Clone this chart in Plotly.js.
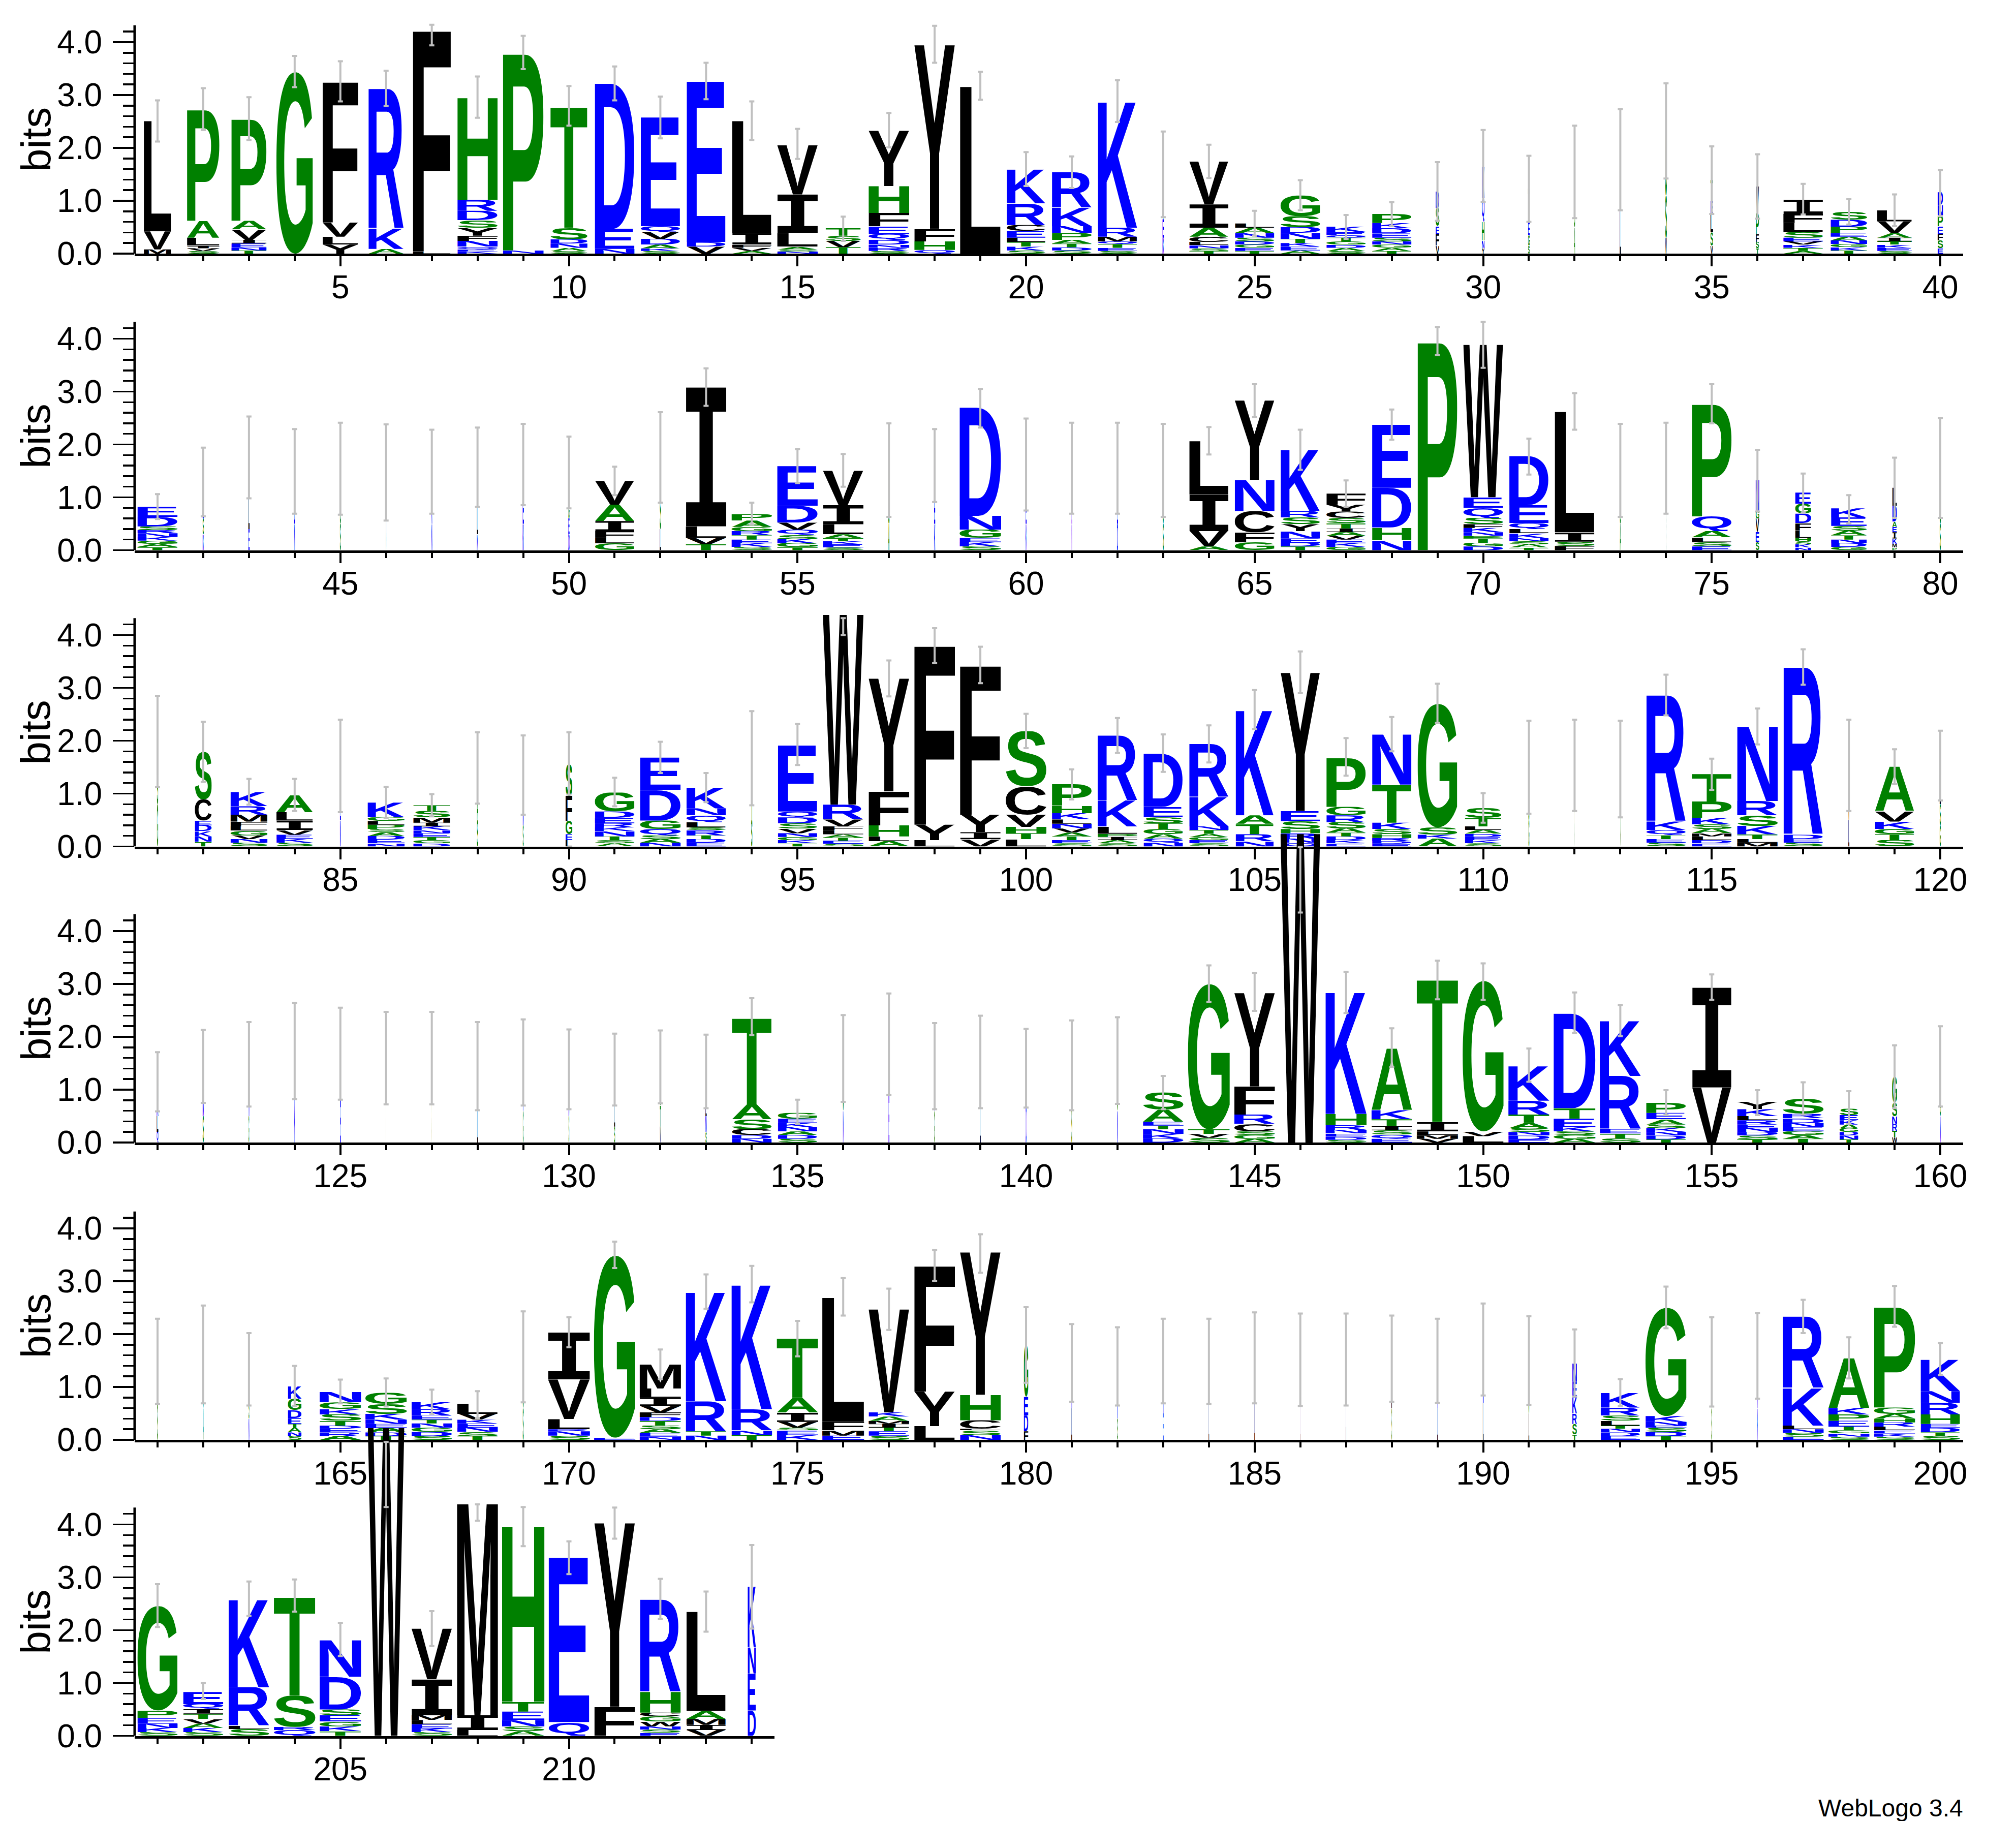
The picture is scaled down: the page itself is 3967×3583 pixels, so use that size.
<!DOCTYPE html>
<html>
<head>
<meta charset="utf-8">
<script src="https://cdn.plot.ly/plotly-3.0.1.min.js"></script>
<style>html,body{margin:0;padding:0;background:#fff}#plot{width:3967px;height:3583px}</style>
</head>
<body>
<div id="plot"></div>
<script>
const rowFirst = [1, 41, 81, 121, 161, 201];
const rowLast  = [40, 80, 120, 160, 200, 214];

// letters of each stack, bottom -> top
const stackLetters = [
 // 1-40
 "MVL","SVILAP","TNEIVAP","G","YLVF","AKR","LF","KEQNFYSDRH","NP","SANDST",
 "NED","SKADVQE","VDE","AVFIL","NSALIV","TVST","SRNDQEFHY","QHFY","L","SKTLECRK",
 "SDTAPNKR","SETQMRK","KEG","TSNLCAIV","TEGDSNAL","AEKTNDSG","SADGTQEK","TAGNSEDKP","VFESD","YNHQK",
 "SGET","ASG","LVK","VSG","VSLET","TSFPV","ATKVESLFI","TKGNAEPDS","SEKTIAVL","ESFEPND",
 // 41-80
 "TAGKNRSDE","KSE","ELI","NDE","SGT","G","NKD","NLIM","KEFL","DEGS",
 "GLFIAV","LSG","TVLI","SKETRGAP","TGKSQVDE","SEKTALIV","ASG","KED","SKEGND","KED",
 "NEK","DEK","SGT","AVIL","GFCNY","TDENYSRK","GKEVAITSCYF","NHDE","P","DGTPNKFSQEW",
 "TASNKLQED","FSIL","ASG","SGA","ESLAQP","SEVGN","NKSHLFDGE","GDNTASEK","PMKIEADL","SGT",
 // 81-120
 "GSL","TNKDECS","SNVGLFMRK","SKEVILA","NED","NEDASPLGK","DGTENKIMST","SAG","SNK","LEGFS",
 "ASTNKREDG","NASQGDE","EDTRSLQNK","STG","TKGNVSDQE","SETALFVRW","ALHFY","LYF","VIYF","LTHVCS",
 "SETAVNLKHP","SAIPLKR","NQAGTSED","SEGATNKR","NRTAK","QNRHSEY","EKDTASRGP","EDRHSKTN","AKSG","SKEDALTS",
 "GST","S","G","SETQKR","EDLMASKPT","MLTKSRN","SEDR","LVI","STGKVA","GSL",
 // 121-160
 "QLKS","SNG","GN","KD","EN","S","S","LN","GK","SD",
 "SLK","VTS","SNLE","NDCSAT","SDANKEG","NG","EK","GK","LI","DN",
 "SG","NG","DKNTEAS","SVTG","AGSCRFY","W","SDENRHK","EQSITKA","VMLIT","LVG",
 "EDNSATRK","AGSKETD","STERK","TDNKSAEP","VI","TSDNERLKY","TAGENDRS","TNDGAKES","WTRNSG","NGK",
 // 161-200
 "SG","AG","NSG","SNATEDGK","AREDTSKGN","TDAENKSG","SDGNTERK","TSNEKVL","SG","SNRLVI",
 "EG","NEASTDFVILM","NTRK","TNRK","KESVIAT","EMFL","SETIMAKV","LYF","NSLCHY","FDEG",
 "LK","SK","EK","LV","LI","LI","L","SL","LK","LE",
 "LS","TSRKEN","EDNTLSRK","TDSENKG","SG","KN","ESNLKR","SNGTEPKA","SKELRHAGP","STDEHRNK",
 // 201-214
 "SKNEPG","SKAVTIQE","SLRK","QRST","TKGESDN","W","SKELMIV","LIM","ASNETH","QE",
 "FY","ESNWGCHR","VIMAL","DENK"
];

// letter heights in bits, bottom -> top
const stackHeights = [
 // 1-40
 [.08,.34,2.09],[.05,.05,.05,.15,.32,2.11],[.06,.06,.07,.07,.20,.16,1.93],[3.44],[.17,.15,.27,2.67],
 [.09,.38,2.65],[.04,4.20],[.04,.04,.05,.11,.10,.15,.14,.18,.21,1.94],[.06,3.74],[.05,.06,.08,.08,.22,2.29],
 [.09,.38,2.75],[.05,.05,.07,.11,.13,.11,2.06],[.13,.09,3.04],[.05,.06,.06,.22,2.12],[.04,.04,.05,.26,.73,.94],
 [.12,.12,.10,.15],[.05,.06,.06,.09,.11,.15,.25,.51,1.05],[.07,.16,.24,3.48],[3.16],[.06,.07,.09,.08,.13,.11,.41,.64],
 [.06,.06,.07,.07,.13,.13,.35,.67],[.05,.06,.07,.05,.09,.17,2.39],[.30,.35,.88],[.05,.05,.06,.06,.10,.17,.44,.81],[.05,.06,.06,.06,.07,.09,.10,.08],
 [.06,.07,.07,.08,.11,.11,.21,.39],[.05,.06,.06,.06,.07,.05,.06,.10],[.05,.06,.06,.06,.07,.08,.10,.10,.17],[.15,.22,.15,.34,.32],[.10,.15,.35,.45,.60],
 [.15,.20,.25,.63],[.50,.50,.54],[.80,.40,.58],[.30,.80,1.22],[.15,.25,.35,.25,.39],
 [.10,.12,.15,.40,.50],[.05,.06,.06,.06,.07,.11,.17,.17,.27],[.06,.06,.06,.07,.07,.07,.12,.13,.15],[.05,.06,.06,.06,.07,.09,.22,.21],[.10,.15,.12,.15,.20,.20,.24],
 // 41-80
 [.06,.06,.06,.07,.07,.06,.07,.18,.19],[.30,.30,.70],[.40,.70,.66],[.50,.50,.50],[.50,.50,.54],
 [1.47],[.50,.50,.48],[.30,.50,.30,.47],[.50,.50,.20,.42],[.30,.30,.30,.57],
 [.13,.10,.13,.19,.31,.45],[.40,.70,.66],[.11,.12,.22,2.63],[.06,.07,.07,.08,.08,.08,.12,.12],[.06,.07,.08,.08,.10,.13,.32,.75],
 [.05,.06,.06,.06,.07,.19,.36,.65],[.50,.50,.53],[.50,.50,.59],[.07,.08,.08,.16,.26,2.05],[.50,.50,.62],
 [.50,.50,.55],[.50,.50,.55],[.50,.50,.51],[.07,.29,.69,1.01],[.15,.19,.40,.59,1.50],
 [.07,.07,.08,.14,.13,.13,.12,1.16],[.06,.07,.07,.07,.07,.07,.10,.10,.12,.13,.21],[.19,.24,.75,1.19],[3.95],[.07,.07,.08,.05,.07,.08,.07,.12,.19,.20,2.89],
 [.05,.06,.06,.06,.09,.08,.11,.34,.93],[.08,.08,.18,2.28],[.50,.50,.51],[.50,.50,.55],[.07,.08,.09,.12,.28,2.13],
 [.15,.20,.25,.15,.58],[.05,.06,.06,.06,.14,.14,.18,.19,.21],[.06,.07,.07,.08,.09,.09,.16,.17],[.05,.07,.10,.12,.10,.10,.30,.34],[.50,.50,.55],
 // 81-120
 [.80,.60,.58],[.09,.10,.10,.11,.09,.40,.90],[.07,.07,.07,.09,.08,.09,.13,.16,.27],[.07,.07,.08,.09,.18,.16,.32],[.50,.50,.52],
 [.06,.07,.07,.07,.06,.08,.07,.07,.28],[.06,.06,.06,.07,.06,.07,.07,.10,.12,.11],[.50,.50,.50],[.40,.50,.45],[.12,.11,.25,.48,.60],
 [.06,.06,.07,.10,.07,.08,.10,.12,.36],[.07,.07,.07,.12,.16,.58,.61],[.07,.07,.07,.10,.05,.10,.13,.13,.39],[.50,.50,.67],[.06,.06,.06,.07,.09,.10,.11,.11,1.26],
 [.05,.06,.06,.06,.08,.07,.13,.28,3.60],[.10,.09,.21,.64,2.14],[.12,.29,3.40],[.14,.13,.33,2.83],[.14,.11,.12,.23,.53,1.05],
 [.06,.06,.07,.07,.08,.09,.08,.12,.14,.41],[.06,.06,.06,.06,.14,.49,1.23],[.07,.08,.08,.10,.11,.11,.20,1.01],[.06,.06,.06,.06,.07,.07,.56,1.00],[.10,.13,.20,.16,1.99],
 [.07,.08,.10,.08,.15,.19,2.62],[.06,.06,.07,.07,.08,.12,.13,.16,.93],[.05,.05,.06,.07,.10,.12,.72,.95],[.15,.07,.14,2.34],[.06,.06,.06,.06,.07,.07,.16,.19],
 [.50,.50,.50],[1.54],[1.46],[.07,.07,.07,.10,.16,2.39],[.06,.06,.07,.06,.08,.09,.12,.31,.52],
 [.07,.07,.09,.16,.20,.27,1.41],[.07,.07,.08,3.17],[.50,.50,.54],[.12,.11,.10,.14,.20,.84],[.40,.40,.73],
 // 121-160
 [.20,.30,.30,.35],[.50,.40,.54],[.50,.98],[.80,.93],[.80,.88],
 [1.59],[1.59],[.60,.85],[.60,.92],[.50,.89],
 [.30,.50,.58],[.30,.40,.73],[.20,.30,.30,.54],[.07,.07,.11,.19,.28,1.64],[.07,.07,.07,.08,.08,.08,.11],
 [.60,.99],[.90,.96],[.60,.85],[.80,.72],[.70,.71],
 [.70,.76],[.60,.95],[.08,.08,.09,.07,.07,.23,.33],[.09,.07,.09,2.75],[.07,.07,.07,.14,.18,.53,1.77],
 [5.85],[.05,.06,.06,.07,.09,.21,2.31],[.07,.08,.08,.08,.13,.17,1.17],[.07,.07,.07,.18,2.70],[.12,.09,2.85],
 [.06,.07,.07,.07,.10,.16,.26,.66],[.07,.07,.07,.08,.16,.20,1.79],[.08,.09,.09,1.00,1.04],[.06,.07,.07,.07,.07,.10,.12,.20],[1.04,1.89],
 [.06,.07,.07,.07,.07,.08,.08,.13,.14],[.07,.07,.07,.08,.08,.09,.08,.29],[.06,.07,.07,.07,.07,.08,.10,.12],[.10,.12,.13,.15,.25,.49],[.50,.40,.54],
 // 161-200
 [.70,.79],[.60,1.01],[.40,.40,.54],[.07,.07,.08,.08,.11,.15,.22,.24],[.07,.07,.07,.06,.09,.12,.10,.13,.20],
 [.07,.07,.08,.08,.08,.11,.19,.21],[.07,.08,.08,.08,.07,.08,.12,.14],[.07,.08,.08,.08,.07,.11,.19],[.60,.97],[.08,.08,.04,.19,.75,.89],
 [.04,3.45],[.06,.07,.07,.07,.09,.07,.09,.12,.15,.18,.46],[.08,.08,.57,2.07],[.09,.09,.40,2.36],[.09,.09,.05,.11,.18,.27,1.13],
 [.08,.10,.16,2.35],[.08,.08,.07,.07,.06,.08,.08,1.95],[.26,.65,2.39],[.09,.09,.03,.16,.48,2.70],[.16,.30,.35,.98],
 [.60,.86],[.40,.99],[.50,.99],[.70,.79],[.80,.75],
 [.70,.82],[1.52],[.60,.94],[.60,.90],[.70,1.01],
 [.50,1.00],[.10,.20,.20,.30,.30,.35],[.07,.07,.07,.06,.09,.10,.15,.28],[.07,.08,.08,.04,.07,.11,2.05],[.60,.87],
 [.60,.99],[.06,.07,.07,.07,.71,1.35],[.06,.06,.06,.07,.11,.12,.12,.94],[.06,.06,.06,.07,.08,.07,.09,.12,1.91],[.07,.07,.08,.08,.18,.22,.22,.60],
 // 201-214
 [.07,.08,.08,.11,.14,1.98],[.07,.08,.08,.09,.10,.09,.09,.23],[.13,.06,.73,1.66],[.11,.06,.59,1.87],[.09,.09,.09,.12,.11,.62,.69],
 [5.84],[.07,.07,.08,.08,.09,.68,.96],[.11,.28,4.03],[.09,.09,.12,.16,.19,3.33],[.26,3.12],
 [.55,3.48],[.06,.06,.06,.09,.10,.07,.39,1.75],[.11,.10,.11,.15,1.88],[.48,.70,.50,1.15]
];

// visible stack width, as a fraction of one position (narrow = many gaps)
const stackWidths = [
 .60,.71,.77,.80,.78,.77,.83,.88,.89,.81,.87,.86,.85,.86,.89,.77,.89,.89,.89,.85,
 .87,.86,.035,.86,.86,.87,.86,.86,.08,.06,.04,.025,.03,.04,.06,.07,.87,.80,.76,.12,
 .88,.03,.03,.025,.025,.01,.025,.03,.03,.03,.86,.03,.89,.89,.89,.89,.03,.03,.91,.025,
 .015,.025,.025,.86,.87,.86,.86,.86,.87,.87,.86,.87,.025,.008,.87,.08,.35,.78,.10,.03,
 .03,.37,.81,.80,.025,.81,.81,.03,.025,.15,.87,.89,.86,.03,.86,.89,.89,.89,.89,.89,
 .87,.87,.86,.86,.83,.86,.86,.86,.87,.80,.025,.006,.01,.86,.87,.89,.86,.025,.86,.03,
 .04,.03,.02,.02,.02,.006,.006,.02,.02,.02,.025,.025,.03,.87,.86,.02,.02,.02,.02,.02,
 .02,.02,.89,.92,.89,.87,.90,.89,.91,.90,.90,.92,.90,.87,.86,.89,.90,.41,.11,.025,
 .02,.02,.02,.30,.91,.91,.89,.89,.025,.92,.91,.91,.89,.89,.91,.92,.89,.89,.89,.10,
 .02,.02,.02,.015,.015,.008,.01,.015,.015,.02,.02,.10,.86,.90,.02,.02,.90,.90,.90,.86,
 .88,.88,.89,.91,.91,.80,.89,.90,.93,.89,.89,.89,.86,.18
];

// error bars (bits): lower and upper end
const errLow = [
 2.12,2.34,2.15,3.15,2.88,2.79,3.94,2.57,3.49,2.42,2.90,2.18,2.92,2.15,1.79,.24,2.01,3.61,2.91,1.28,
 1.24,2.49,.69,1.43,.34,.82,.28,.52,.62,.98,.60,.67,.82,1.42,.75,.66,.74,.55,.52,.71,
 .59,.64,.98,.69,.67,.56,.69,.82,.85,.79,1.04,.90,2.73,.49,1.27,1.20,.63,.91,2.32,.75,
 .69,.69,.63,1.81,2.52,1.52,.82,2.09,3.69,3.45,1.43,2.28,.63,.69,2.40,.73,.71,.51,.61,.61,
 1.12,1.22,.79,.67,.65,.54,.57,.81,.60,.98,.76,1.39,.84,.78,1.54,4.00,2.84,3.47,3.09,1.86,
 .89,1.77,1.41,1.59,2.22,2.90,1.34,1.80,2.34,.45,.62,.67,.55,2.48,1.07,1.93,3.06,.67,1.18,.87,
 .59,.75,.68,.82,.81,.72,.72,.61,.70,.63,.70,.74,.65,2.03,.35,.77,.90,.63,.65,.66,
 .61,.73,.63,2.66,2.49,4.35,2.45,1.43,2.71,2.70,1.15,2.07,2.01,.52,2.70,.52,.53,.35,.65,.68,
 .68,.69,.65,.64,.69,.63,.49,.41,.71,1.75,3.25,1.15,2.48,2.60,1.58,2.35,2.08,3.01,3.16,1.08,
 .72,.65,.69,.68,.69,.64,.65,.72,.70,.84,.66,.82,.64,2.11,.63,.78,2.02,1.16,2.14,1.22,
 2.06,.70,2.27,2.35,1.51,4.33,1.70,4.07,3.59,3.06,3.73,2.21,1.97,2.03
];
const errHigh = [
 2.90,3.13,2.96,3.74,3.64,3.46,4.33,3.35,4.12,3.17,3.54,2.97,3.61,2.88,2.36,.70,2.66,4.31,3.44,1.92,
 1.84,3.28,2.31,2.06,.81,1.39,.73,.97,1.73,2.34,1.85,2.42,2.73,3.22,2.03,1.88,1.32,1.03,1.12,1.58,
 1.06,1.94,2.53,2.29,2.41,2.38,2.28,2.32,2.39,2.15,1.58,2.61,3.44,.90,1.91,1.82,2.40,2.29,3.05,2.49,
 2.41,2.41,2.39,2.33,3.14,2.28,1.32,2.66,4.22,4.32,2.11,2.97,2.39,2.41,3.14,1.90,1.45,1.04,1.75,2.50,
 2.85,2.36,1.28,1.28,2.40,1.13,.99,2.16,2.10,2.16,1.30,1.98,1.39,2.56,2.32,4.32,3.52,4.13,3.78,2.51,
 1.46,2.43,2.12,2.29,2.96,3.69,2.05,2.45,3.08,1.01,2.38,2.40,2.38,3.25,1.66,2.61,3.73,2.40,1.84,2.19,
 1.71,2.13,2.28,2.64,2.55,2.47,2.47,2.28,2.33,2.14,2.06,2.12,2.04,2.73,.81,2.41,2.82,2.26,2.40,2.15,
 2.31,2.37,1.26,3.35,3.21,5.59,3.23,2.16,3.44,3.39,1.78,2.84,2.60,.99,3.18,.99,1.14,.97,1.84,2.20,
 2.29,2.54,2.02,1.40,1.14,1.16,.95,.92,2.43,2.32,3.75,1.71,3.13,3.29,2.25,3.06,2.86,3.59,3.89,2.51,
 2.19,2.13,2.29,2.29,2.41,2.39,2.39,2.35,2.29,2.58,2.34,2.09,1.15,2.90,2.32,2.40,2.65,1.94,2.91,1.83,
 2.87,1.00,2.92,2.96,2.14,5.56,2.36,4.38,4.33,3.68,4.32,2.97,2.73,3.61
];

// axis ticks
const yTickVals = [0, 1, 2, 3, 4];
const yTickText = ["0.0", "1.0", "2.0", "3.0", "4.0"];
const yMinorVals = [0.2,0.4,0.6,0.8,1.2,1.4,1.6,1.8,2.2,2.4,2.6,2.8,3.2,3.4,3.6,3.8,4.2];
const yAxisTop = 4.32;   // log2(20)

// ---------------- STYLE / GEOMETRY ----------------
const FIG_W = 3967, FIG_H = 3583;
const rowZeroPx = [499, 1082.5, 1665.5, 2248, 2833, 3415.5];
const pxPerBit = 104;
const rowRangeTop = [4.6, 4.6, 4.6, 6.0, 4.6, 6.0];
const plotLeftPx = 265, colPx = 89.95;
const FONT = 'Liberation Sans, Arial, Helvetica, sans-serif';

function colorOf(ch) {
  if ('RKDENQ'.includes(ch)) return '#0000ff';
  if ('SGHTAP'.includes(ch)) return '#008000';
  return '#000000';
}

// glyph images whose viewBox is exactly the ink box of the letter
const cvs = document.createElement('canvas');
const ctx = cvs.getContext('2d');
const glyphCache = {};
function glyphURI(ch) {
  if (glyphCache[ch]) return glyphCache[ch];
  const fam = ch === 'I' ? 'DejaVu Sans Mono' : 'Liberation Sans';
  ctx.font = 'bold 200px "' + fam + '"';
  const m = ctx.measureText(ch);
  const l = m.actualBoundingBoxLeft, r = m.actualBoundingBoxRight;
  const a = m.actualBoundingBoxAscent, d = m.actualBoundingBoxDescent;
  const vb = [-l, -a, l + r, a + d];
  const svg = '<svg xmlns="http://www.w3.org/2000/svg" width="' + vb[2] + '" height="' + vb[3] +
    '" viewBox="' + vb.join(' ') + '" preserveAspectRatio="none"><text x="0" y="0" font-family="' + fam +
    '" font-weight="bold" font-size="200" fill="' + colorOf(ch) + '">' + ch + '</text></svg>';
  glyphCache[ch] = 'data:image/svg+xml;charset=utf-8,' + encodeURIComponent(svg);
  return glyphCache[ch];
}

const layout = {
  width: FIG_W, height: FIG_H,
  margin: {l: 0, r: 0, t: 0, b: 0, pad: 0},
  paper_bgcolor: '#ffffff', plot_bgcolor: 'rgba(0,0,0,0)',
  showlegend: false,
  font: {family: FONT, color: '#000000'},
  images: [], shapes: [], annotations: []
};
const traces = [];

for (let k = 0; k < rowFirst.length; k++) {
  const sfx = k === 0 ? '' : String(k + 1);
  const xId = 'x' + sfx, yId = 'y' + sfx;
  const nCols = rowLast[k] - rowFirst[k] + 1;
  const y0 = (FIG_H - rowZeroPx[k]) / FIG_H;
  const y1 = Math.min(1, (FIG_H - (rowZeroPx[k] - rowRangeTop[k] * pxPerBit)) / FIG_H);
  layout['xaxis' + sfx] = {
    domain: [plotLeftPx / FIG_W, (plotLeftPx + nCols * colPx) / FIG_W],
    range: [rowFirst[k] - 0.5, rowLast[k] + 0.5],
    anchor: yId, showline: true, linewidth: 5, linecolor: '#000',
    ticks: 'outside', tickmode: 'linear', tick0: 0, dtick: 5, ticklen: 20, tickwidth: 4, tickcolor: '#000',
    minor: {ticks: 'outside', tickmode: 'linear', tick0: 0, dtick: 1, ticklen: 10, tickwidth: 4, tickcolor: '#000', showgrid: false},
    showgrid: false, zeroline: false, ticklabelstandoff: -14,
    tickfont: {family: FONT, size: 64, color: '#000'}, fixedrange: true
  };
  layout['yaxis' + sfx] = {
    domain: [y0, y1], range: [0, rowRangeTop[k]], anchor: xId,
    showline: false, ticks: 'outside', tickmode: 'array', tickvals: yTickVals, ticktext: yTickText,
    ticklen: 42, tickwidth: 3.5, tickcolor: '#000',
    minor: {ticks: 'outside', tickmode: 'array', tickvals: yMinorVals, ticklen: 22, tickwidth: 3.5, tickcolor: '#000', showgrid: false},
    showgrid: false, zeroline: false, ticklabelstandoff: 8,
    tickfont: {family: FONT, size: 64, color: '#000'}, fixedrange: true
  };
  layout.shapes.push({type: 'line', xref: 'paper', yref: yId,
    x0: plotLeftPx / FIG_W, x1: plotLeftPx / FIG_W, y0: 0, y1: yAxisTop,
    line: {color: '#000', width: 5}, layer: 'above'});
  layout.annotations.push({xref: 'paper', yref: yId, x: 70 / FIG_W, y: yAxisTop / 2,
    text: 'bits', textangle: -90, showarrow: false, xanchor: 'center', yanchor: 'middle',
    font: {family: FONT, size: 82, color: '#000'}});

  const xs = [], mids = [], ups = [], downs = [];
  for (let p = rowFirst[k]; p <= rowLast[k]; p++) {
    const i = p - 1;
    const letters = stackLetters[i], hs = stackHeights[i], w = stackWidths[i];
    if (letters.length !== hs.length) console.error('length mismatch at position', p);
    let cum = 0;
    for (let j = 0; j < letters.length; j++) {
      const h = hs[j];
      layout.images.push({source: glyphURI(letters[j]), xref: xId, yref: yId,
        x: p - w / 2, y: cum + h, sizex: w, sizey: h,
        xanchor: 'left', yanchor: 'top', sizing: 'stretch', layer: 'below'});
      cum += h;
    }
    const mid = (errLow[i] + errHigh[i]) / 2;
    xs.push(p); mids.push(mid); ups.push(errHigh[i] - mid); downs.push(mid - errLow[i]);
  }
  traces.push({type: 'scatter', mode: 'markers', xaxis: xId, yaxis: yId,
    x: xs, y: mids, marker: {size: 1, color: 'rgba(0,0,0,0)'},
    error_y: {type: 'data', symmetric: false, array: ups, arrayminus: downs,
      color: '#c0c0c0', thickness: 4, width: 5},
    hoverinfo: 'skip', showlegend: false});
}

layout.annotations.push({xref: 'paper', yref: 'paper', x: 3865 / FIG_W, y: 0,
  xanchor: 'right', yanchor: 'bottom', yshift: -3, showarrow: false, text: 'WebLogo 3.4',
  font: {family: FONT, size: 48, color: '#000'}});

Plotly.newPlot('plot', traces, layout, {staticPlot: true, displayModeBar: false});
</script>
</body>
</html>
